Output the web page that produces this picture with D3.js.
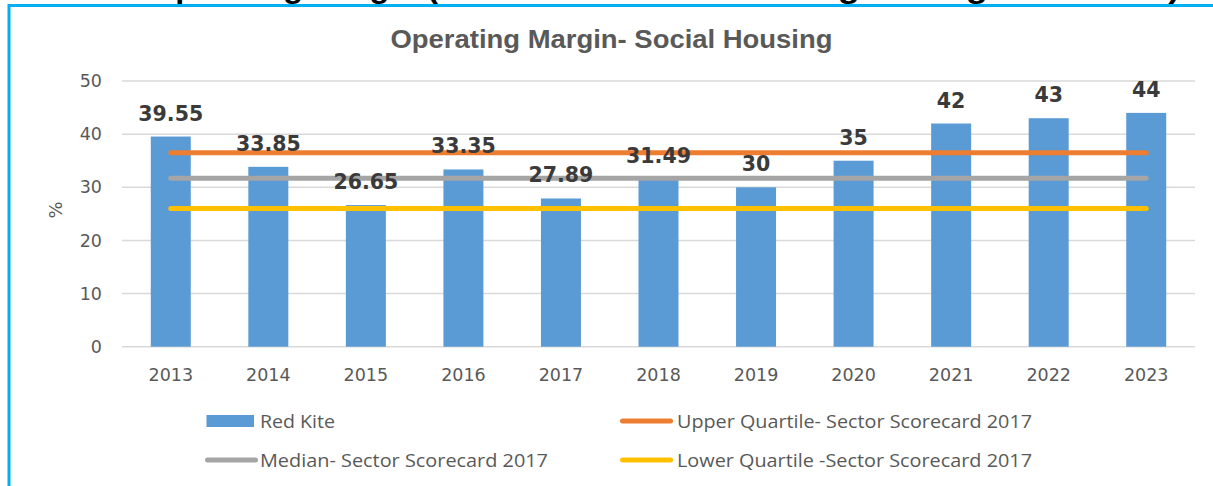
<!DOCTYPE html>
<html>
<head>
<meta charset="utf-8">
<script src="https://cdn.jsdelivr.net/npm/d3@7"></script>
<style>
  html, body { margin: 0; padding: 0; background: #ffffff; }
  svg { display: block; }
</style>
</head>
<body>
<svg id="chart" width="1213" height="486"></svg>
<script>
const categories = ["2013","2014","2015","2016","2017","2018","2019","2020","2021","2022","2023"];
const redKite = [39.55, 33.85, 26.65, 33.35, 27.89, 31.49, 30, 35, 42, 43, 44];
const redKiteLabels = ["39.55","33.85","26.65","33.35","27.89","31.49","30","35","42","43","44"];
const upperQuartile = 36.5;
const median = 31.7;
const lowerQuartile = 26.0;
const yTicks = [0, 10, 20, 30, 40, 50];
const chartTitle = "Operating Margin- Social Housing";
const yAxisLabel = "%";
const legendNames = ["Red Kite", "Upper Quartile- Sector Scorecard 2017", "Median- Sector Scorecard 2017", "Lower Quartile -Sector Scorecard 2017"];

const svg = d3.select("#chart");

const plot = { left: 122, right: 1195, top: 81, bottom: 346.7 };

const x = d3.scaleBand().domain(categories).range([plot.left, plot.right])
  .paddingInner(0.59).paddingOuter(0.295);
const y = d3.scaleLinear().domain([0, 50]).range([plot.bottom, plot.top]);

// cut-off heading above the chart box (only its descenders show in the reference)
const head = svg.append("text")
  .attr("y", -2)
  .attr("font-family", "Liberation Sans, Arial, sans-serif")
  .attr("font-weight", "bold")
  .attr("font-size", 30)
  .attr("fill", "#000");
head.append("tspan").attr("x", 150).attr("textLength", 288).attr("lengthAdjust", "spacingAndGlyphs")
  .text("Operating Margin (");
head.append("tspan").attr("x", 440).attr("textLength", 740).attr("lengthAdjust", "spacingAndGlyphs")
  .text("as a % of Social Housing Lettings Turnover)");

// blue frame
svg.append("path")
  .attr("d", "M9,486 V5.5 H1213")
  .attr("fill", "none")
  .attr("stroke", "#00b0f0")
  .attr("stroke-width", 3);

// title
svg.append("text")
  .attr("x", 611.5).attr("y", 48)
  .attr("text-anchor", "middle")
  .attr("font-family", "Liberation Sans, Arial, sans-serif")
  .attr("font-weight", "bold")
  .attr("font-size", 25)
  .attr("fill", "#595959")
  .attr("textLength", 442).attr("lengthAdjust", "spacingAndGlyphs")
  .text(chartTitle);

// gridlines
svg.append("g").selectAll("line").data(yTicks).join("line")
  .attr("x1", plot.left).attr("x2", plot.right)
  .attr("y1", d => y(d)).attr("y2", d => y(d))
  .attr("stroke", "#d9d9d9").attr("stroke-width", 1.5);

// y axis tick labels
const yAxis = d3.axisLeft(y).tickValues(yTicks).tickSize(0).tickPadding(0);
const gy = svg.append("g").attr("transform", "translate(102,0)").call(yAxis);
gy.select(".domain").remove();
gy.selectAll("text")
  .attr("font-family", "DejaVu Sans, sans-serif")
  .attr("font-size", 17.5)
  .attr("fill", "#595959");

// x axis tick labels
const xAxis = d3.axisBottom(x).tickSize(0).tickPadding(0);
const gx = svg.append("g").attr("transform", "translate(0,369)").call(xAxis);
gx.select(".domain").remove();
gx.selectAll("text")
  .attr("font-family", "DejaVu Sans, sans-serif")
  .attr("font-size", 17.5)
  .attr("fill", "#595959");

// y axis title
svg.append("text")
  .attr("transform", "translate(62,210) rotate(-90)")
  .attr("text-anchor", "middle")
  .attr("font-family", "DejaVu Sans, sans-serif")
  .attr("font-size", 18)
  .attr("fill", "#595959")
  .text(yAxisLabel);

// bars
svg.append("g").selectAll("rect").data(categories).join("rect")
  .attr("x", d => x(d))
  .attr("width", x.bandwidth())
  .attr("y", (d, i) => y(redKite[i]))
  .attr("height", (d, i) => y(0) - y(redKite[i]))
  .attr("fill", "#5b9bd5");

// reference lines
const refs = [
  { v: upperQuartile, c: "#ed7d31" },
  { v: median, c: "#a5a5a5" },
  { v: lowerQuartile, c: "#ffc000" }
];
const xFirst = x(categories[0]) + x.bandwidth() / 2;
const xLast = x(categories[categories.length - 1]) + x.bandwidth() / 2;
svg.append("g").selectAll("line").data(refs).join("line")
  .attr("x1", xFirst).attr("x2", xLast)
  .attr("y1", d => y(d.v)).attr("y2", d => y(d.v))
  .attr("stroke", d => d.c)
  .attr("stroke-width", 5)
  .attr("stroke-linecap", "round");

// data labels
svg.append("g").selectAll("text").data(categories).join("text")
  .attr("x", d => x(d) + x.bandwidth() / 2)
  .attr("y", (d, i) => y(redKite[i]) - 16)
  .attr("text-anchor", "middle")
  .attr("font-family", "DejaVu Sans, sans-serif")
  .attr("font-weight", "bold")
  .attr("font-size", 20.5)
  .attr("fill", "#3a3a3a")
  .text((d, i) => redKiteLabels[i]);

// legend
const legend = [
  { name: legendNames[0], type: "rect", c: "#5b9bd5", sx: 206.5, ty: 421, tx: 260, tl: 75 },
  { name: legendNames[1], type: "line", c: "#ed7d31", sx: 620, ty: 421, tx: 677, tl: 355 },
  { name: legendNames[2], type: "line", c: "#a5a5a5", sx: 205, ty: 460, tx: 260, tl: 288 },
  { name: legendNames[3], type: "line", c: "#ffc000", sx: 620, ty: 460, tx: 677, tl: 355 }
];
const lg = svg.append("g");
legend.forEach(d => {
  if (d.type === "rect") {
    lg.append("rect").attr("x", d.sx).attr("y", d.ty - 6).attr("width", 47.5).attr("height", 12)
      .attr("fill", d.c);
  } else {
    lg.append("line").attr("x1", d.sx + 2.5).attr("x2", d.sx + 50.5)
      .attr("y1", d.ty).attr("y2", d.ty)
      .attr("stroke", d.c).attr("stroke-width", 5).attr("stroke-linecap", "round");
  }
  lg.append("text")
    .attr("x", d.tx).attr("y", d.ty + 6.5)
    .attr("font-family", "Open Sans, sans-serif")
    .attr("font-size", 17.5)
    .attr("fill", "#595959")
    .attr("textLength", d.tl).attr("lengthAdjust", "spacingAndGlyphs")
    .text(d.name);
});
</script>
</body>
</html>
